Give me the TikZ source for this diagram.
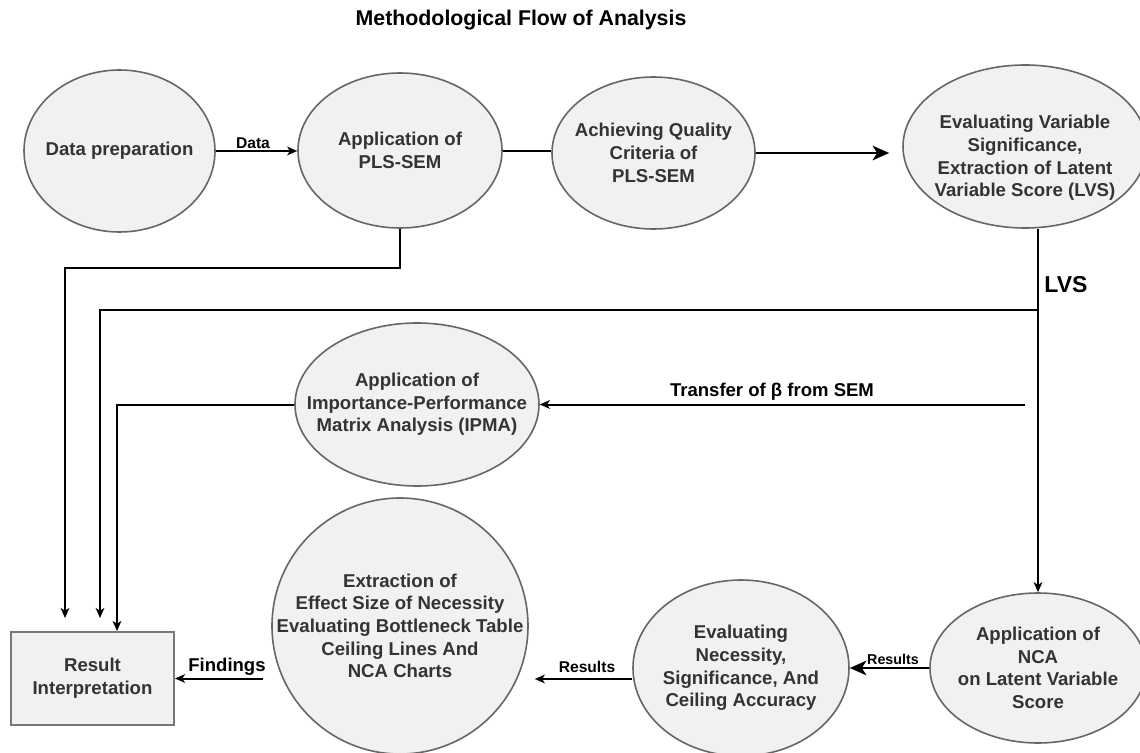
\documentclass[tikz,border=0pt]{standalone}
\usepackage{fontspec}
\setmainfont{Liberation Sans}
\usetikzlibrary{arrows.meta,calc,shapes.geometric}
\definecolor{ellfill}{RGB}{241,241,241}
\definecolor{ellline}{RGB}{102,102,102}
\definecolor{boxline}{RGB}{120,120,120}
\definecolor{ntext}{RGB}{51,51,51}
\newcommand\pxu{0.75pt}
\newcommand\nodefont{\fontsize{13.95pt}{17pt}\selectfont\bfseries}
\newcommand\titlefont{\fontsize{16pt}{19pt}\selectfont\bfseries}
\newcommand\lvsfont{\fontsize{17.25pt}{20pt}\selectfont\bfseries}
\newcommand\biglblfont{\fontsize{13.9pt}{16pt}\selectfont\bfseries}
\newcommand\midlblfont{\fontsize{11.7pt}{14pt}\selectfont\bfseries}
\newcommand\smalllblfont{\fontsize{10.7pt}{13pt}\selectfont\bfseries}
\begin{document}
\begin{tikzpicture}[x=0.75pt,y=-0.75pt,
  ell/.style={ellipse,draw=ellline,fill=ellfill,line width=1.2pt,inner sep=0pt},
  txt/.style={font=\nodefont,text=ntext,align=center,inner sep=0pt},
  conn/.style={line width=1.5pt,draw=black},
  smalltip/.style={-{Stealth[length=7.5pt,width=6.5pt,inset=2pt]}},
  bigtip/.style={-{Stealth[length=12.5pt,width=11pt,inset=3.5pt]}},
  lbl/.style={inner sep=0pt,text=black}]
\path[use as bounding box,fill=white] (0,0) rectangle (1140,753);

% title
\node[lbl,font=\titlefont] (title) at (521,20) {Methodological Flow of Analysis};

% ellipses
\node[ell,minimum width=191*\pxu,minimum height=162*\pxu] (dp) at (119.5,151) {};
\node[txt] (dpt) at (dp) {Data preparation};
\node[ell,minimum width=204*\pxu,minimum height=155*\pxu] (pls) at (400,150.5) {};
\node[txt] (plst) at (pls) {Application of\\PLS-SEM};
\node[ell,minimum width=203*\pxu,minimum height=152*\pxu] (aq) at (653.5,153) {};
\node[txt] (aqt) at (aq) {Achieving Quality\\Criteria of\\PLS-SEM};
\node[ell,minimum width=244*\pxu,minimum height=163*\pxu] (ev) at (1025,146.5) {};
\node[txt] (evt) at (1025,158) {Evaluating Variable\\Significance,\\Extraction of Latent\\Variable Score (LVS)};
\node[ell,minimum width=244*\pxu,minimum height=163*\pxu] (ipma) at (417,404.5) {};
\node[txt] (ipmat) at (ipma) {Application of\\Importance-Performance\\Matrix Analysis (IPMA)};
\node[ell,minimum width=256*\pxu,minimum height=256*\pxu] (ext) at (400,626) {};
\node[txt] (extt) at (ext) {Extraction of\\Effect Size of Necessity\\Evaluating Bottleneck Table\\Ceiling Lines And\\NCA Charts};
\node[ell,minimum width=216*\pxu,minimum height=176*\pxu] (en) at (741,668) {};
\node[txt] (ent) at (en) {Evaluating\\Necessity,\\Significance, And\\Ceiling Accuracy};
\node[ell,minimum width=216*\pxu,minimum height=150*\pxu] (nca) at (1038,668) {};
\node[txt] (ncat) at (nca) {Application of\\NCA\\on Latent Variable\\Score};

% result box
\node[draw=boxline,fill=ellfill,line width=1.5pt,minimum width=163*\pxu,minimum height=93*\pxu,
      inner sep=0pt,font=\nodefont,text=ntext,align=center] (ri) at (92.5,678.5) {Result\\Interpretation};

% junction coordinates
\coordinate (plsc) at (65,268);
\coordinate (lvsj) at (1038,310);
\coordinate (lvsc) at (100,310);
\coordinate (ipc) at (117,404.5);
\coordinate (trs) at (1025,404.5);
\coordinate (enw) at ([yshift=-11*\pxu]en.west);

% connectors
\draw[conn,smalltip] (dp.east) -- (pls.west |- dp.east);
\node[lbl,font=\midlblfont] (datal) at (253,143) {Data};
\draw[conn] (pls.east) -- (aq.west |- pls.east);
\draw[conn,bigtip,shorten >=13*\pxu] (aq.east) -- (aq.east -| ev.west);
\draw[conn,smalltip,shorten >=13*\pxu] (pls.south) |- (plsc) -- (plsc |- ri.north);
\draw[conn,smalltip] (nca.north |- ev.south) -- (nca.north);
\node[lbl,font=\lvsfont] (lvsl) at (1066,285) {LVS};
\draw[conn,smalltip,shorten >=13*\pxu] (lvsj) -- (lvsc) -- (lvsc |- ri.north);
\draw[conn,smalltip] (trs) -- (ipma.east);
\node[lbl,font=\biglblfont] (trl) at (772,392) {Transfer of β from SEM};
\draw[conn,smalltip] (ipma.west) -- (ipc) -- (ipc |- ri.north);
\draw[conn,bigtip] (nca.west) -- (en.east);
\node[lbl,font=\smalllblfont] (resl2) at (893,659) {Results};
\draw[conn,smalltip,shorten >=6*\pxu] (enw) -- (enw -| ext.east);
\node[lbl,font=\midlblfont] (resl1) at (587,667) {Results};
\draw[conn,smalltip,shorten <=8*\pxu] (ext.west |- ri.east) -- (ri.east);
\node[lbl,font=\biglblfont] (findl) at (227,667) {Findings};
\end{tikzpicture}
\end{document}
